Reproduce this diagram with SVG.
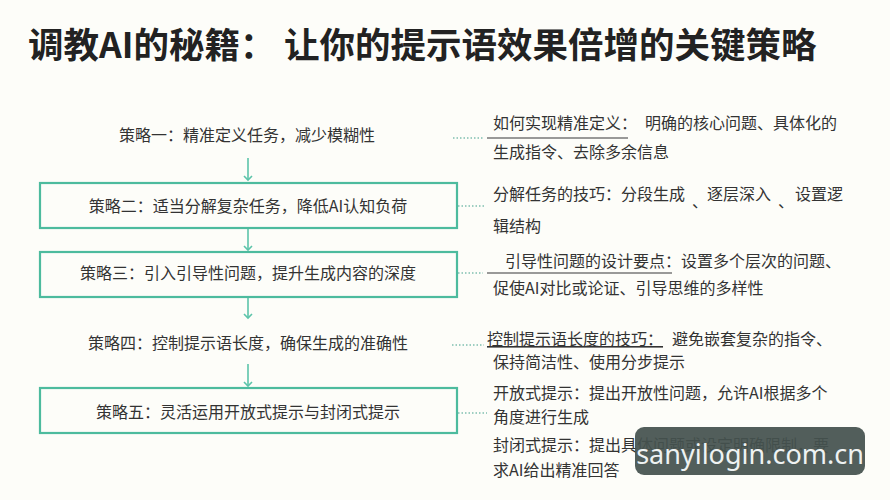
<svg xmlns="http://www.w3.org/2000/svg" width="890" height="500" viewBox="0 0 890 500">
<defs>
<style>
text{font-family:"Noto Sans CJK SC","Noto Sans",sans-serif;fill:#333}
.t{font-size:35.5px;font-weight:bold;fill:#222}
.l{font-size:16px;text-anchor:middle}
.r{font-size:16px}
.box{fill:none;stroke:#4dbb9e;stroke-width:2.2}
.arr{stroke:#5cc4aa;stroke-width:1.6;fill:none}
.dot{stroke:#7fbfb0;stroke-width:1.3;stroke-dasharray:1.5 2;fill:none}
.ul{stroke:#777;stroke-width:1.4}
</style>
<marker id="ah" markerWidth="10" markerHeight="10" refX="5" refY="5" orient="auto" markerUnits="userSpaceOnUse">
<path d="M1,1 L5,5 L1,9" class="arr"/>
</marker>
<linearGradient id="g" x1="0" x2="1" y1="0" y2="0"><stop offset="0" stop-color="#5cc890"/><stop offset="1" stop-color="#4a6ad8"/></linearGradient>
</defs>
<rect width="890" height="500" fill="#fdfdf9"/>
<text class="t" x="28" y="58">调教AI的秘籍：<tspan x="284">让你的提示语效果倍增的关键策略</tspan></text>

<g id="s1"><text class="l" x="247" y="141">策略一：精准定义任务，减少模糊性</text></g>
<g id="s2"><rect class="box" x="40" y="183" width="417" height="45"/><text class="l" x="248" y="212">策略二：适当分解复杂任务，降低AI认知负荷</text></g>
<g id="s3"><rect class="box" x="40" y="252" width="417" height="45"/><text class="l" x="248" y="279">策略三：引入引导性问题，提升生成内容的深度</text></g>
<g id="s4"><text class="l" x="248" y="349">策略四：控制提示语长度，确保生成的准确性</text></g>
<g id="s5"><rect class="box" x="40" y="388" width="417" height="45"/><text class="l" x="248" y="418">策略五：灵活运用开放式提示与封闭式提示</text></g>

<g id="d1"><text class="r" x="493" y="129">如何实现精准定义：<tspan x="645">明确的核心问题、具体化的</tspan></text><text class="r" x="493" y="158">生成指令、去除多余信息</text></g>
<g id="d2"><text class="r" x="493" y="200">分解任务的技巧：分段生成</text><text class="r" x="692" y="207">、</text><text class="r" x="707" y="200">逐层深入</text><text class="r" x="778" y="207">、</text><text class="r" x="795" y="200">设置逻</text><text class="r" x="493" y="232">辑结构</text></g>
<g id="d3"><text class="r" x="505" y="267">引导性问题的设计要点：设置多个层次的问题、</text><text class="r" x="493" y="294">促使AI对比或论证、引导思维的多样性</text></g>
<g id="d4"><text class="r" x="487" y="345" text-decoration="underline">控制提示语长度的技巧：</text><text class="r" x="672" y="345">避免嵌套复杂的指令、</text><text class="r" x="493" y="368">保持简洁性、使用分步提示</text></g>
<g id="d5"><text class="r" x="493" y="399">开放式提示：提出开放性问题，允许AI根据多个</text><text class="r" x="493" y="423">角度进行生成</text><text class="r" x="493" y="451">封闭式提示：提出具体问题或设定明确限制，要</text><text class="r" x="493" y="476">求AI给出精准回答</text></g>

<g id="connectors">
<line class="arr" x1="248" y1="158" x2="248" y2="180" marker-end="url(#ah)"/>
<line class="arr" x1="248" y1="229" x2="248" y2="250" marker-end="url(#ah)"/>
<line class="arr" x1="248" y1="298" x2="248" y2="318" marker-end="url(#ah)"/>
<line class="arr" x1="248" y1="364" x2="248" y2="386" marker-end="url(#ah)"/>
<line class="dot" x1="453" y1="138" x2="484" y2="138"/>
<line class="ul" x1="487" y1="138" x2="628" y2="138"/>
<line class="dot" x1="458" y1="206" x2="485" y2="206"/>
<line x1="487" y1="206" x2="628" y2="206" stroke="url(#g)" stroke-width="2"/>
<line class="dot" x1="458" y1="273" x2="483" y2="273"/>
<line class="ul" x1="487" y1="273" x2="672" y2="273"/>
<line class="dot" x1="452" y1="345" x2="484" y2="345"/>
<line class="dot" x1="458" y1="413" x2="487" y2="413"/>
</g>

<g id="watermark"><rect x="635" y="427" width="230" height="48" rx="9" fill="#45524f" fill-opacity="0.93"/><text x="750" y="464" text-anchor="middle" style="font-family:'Noto Sans',sans-serif;font-size:27px;fill:#eef2f2">sanyilogin.com.cn</text></g>
</svg>
